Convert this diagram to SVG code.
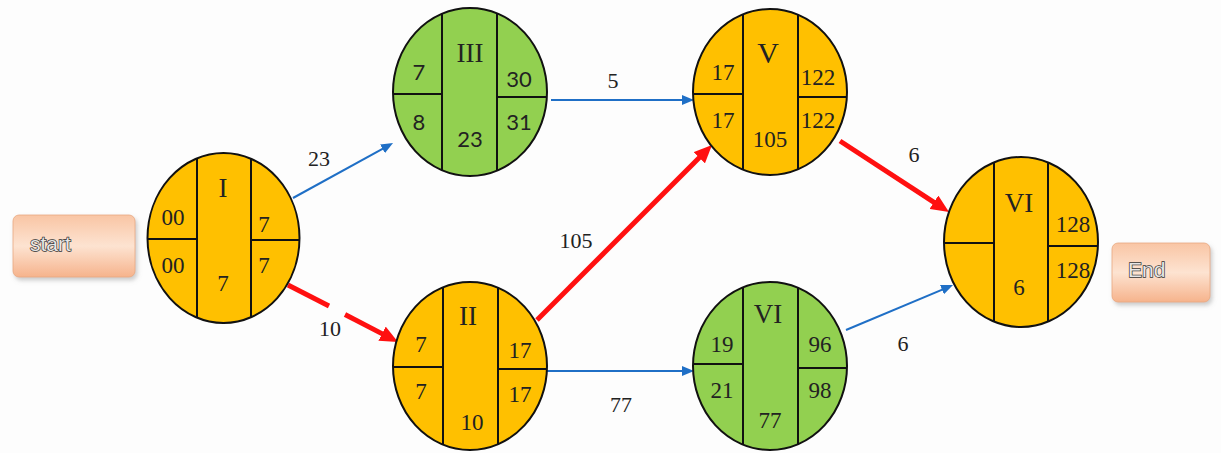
<svg xmlns="http://www.w3.org/2000/svg" width="1221" height="453" viewBox="0 0 1221 453">
<style>
.or{fill:#FFC000;stroke:#111;stroke-width:2}
.gr{fill:#92D050;stroke:#111;stroke-width:2}
.div{stroke:#111;stroke-width:2;fill:none}
.t{font-family:"Liberation Serif","Times New Roman",serif;font-size:23px;fill:#222;text-anchor:middle}
.rn{font-family:"Liberation Serif","Times New Roman",serif;font-size:27px;fill:#222;text-anchor:middle}
.s{font-family:Lato,"Liberation Sans",sans-serif;font-size:22px;fill:#222;text-anchor:middle}
.el{font-family:"Liberation Serif","Times New Roman",serif;font-size:22px;fill:#222;text-anchor:middle}
.blue{stroke:#1F6FC6;stroke-width:2;fill:none}
.red{stroke:#FF1010;stroke-width:5;fill:none}
.bx{fill:url(#peach);stroke:#e8a880;stroke-width:0.8}
.bt{font-family:"Liberation Sans",Arial,sans-serif;font-size:21px;fill:#e6e6e6;stroke:#333;stroke-width:1.4;paint-order:stroke}
</style>
<defs>
<marker id="ab" markerUnits="userSpaceOnUse" markerWidth="12" markerHeight="10" refX="1" refY="5" orient="auto"><path d="M0,0 L12,5 L0,10 z" fill="#1F6FC6"/></marker>
<marker id="ar" markerUnits="userSpaceOnUse" markerWidth="18" markerHeight="16" refX="2" refY="8" orient="auto"><path d="M0,0 L18,8 L0,16 z" fill="#FF1010"/></marker>
<linearGradient id="peach" x1="0" y1="0" x2="0" y2="1"><stop offset="0" stop-color="#f9c5a4"/><stop offset="0.5" stop-color="#fde3d1"/><stop offset="1" stop-color="#f6b38c"/></linearGradient>
<filter id="sh" x="-20%" y="-20%" width="140%" height="150%"><feDropShadow dx="2" dy="3" stdDeviation="2" flood-color="#999" flood-opacity="0.5"/></filter>
<clipPath id="c1"><ellipse cx="223.5" cy="238" rx="76" ry="85"/></clipPath>
<clipPath id="c3"><ellipse cx="470" cy="92" rx="77" ry="84"/></clipPath>
<clipPath id="c5"><ellipse cx="770" cy="92" rx="77" ry="83"/></clipPath>
<clipPath id="c6"><ellipse cx="1021" cy="242" rx="77" ry="85"/></clipPath>
<clipPath id="c2"><ellipse cx="470" cy="366" rx="77" ry="84"/></clipPath>
<clipPath id="c4"><ellipse cx="770" cy="366" rx="77" ry="84"/></clipPath>
</defs>
<rect width="1221" height="453" fill="#fdfdfd"/>

<g id="connectors">
<line class="blue" x1="293" y1="198" x2="383.4" y2="148.3" marker-end="url(#ab)"/>
<line class="blue" x1="551" y1="100" x2="683" y2="100" marker-end="url(#ab)"/>
<line class="red" x1="840" y1="141" x2="935.6" y2="203.3" marker-end="url(#ar)"/>
<line class="red" x1="288" y1="285" x2="329" y2="306"/>
<line class="red" x1="345" y1="314.5" x2="383.8" y2="334.6" marker-end="url(#ar)"/>
<line class="red" x1="537" y1="320" x2="700.7" y2="156.3" marker-end="url(#ar)"/>
<line class="blue" x1="547" y1="371" x2="683" y2="371" marker-end="url(#ab)"/>
<line class="blue" x1="846" y1="330" x2="942.9" y2="289.3" marker-end="url(#ab)"/>
<text class="el" x="319" y="166">23</text>
<text class="el" x="613" y="88">5</text>
<text class="el" x="914" y="162">6</text>
<text class="el" x="330" y="336">10</text>
<text class="el" x="576" y="248">105</text>
<text class="el" x="621" y="412">77</text>
<text class="el" x="903" y="351">6</text>
</g>

<g id="start">
<rect class="bx" x="13" y="215" width="122" height="62" rx="6" filter="url(#sh)"/>
<text class="bt" x="30" y="251">start</text>
</g>
<g id="end">
<rect class="bx" x="1112" y="243" width="98" height="59" rx="6" filter="url(#sh)"/>
<text class="bt" x="1128" y="277">End</text>
</g>

<g id="node-I">
<ellipse class="or" cx="223.5" cy="238" rx="76" ry="85"/>
<g clip-path="url(#c1)" class="div">
<line x1="197" y1="140" x2="197" y2="330"/><line x1="251" y1="140" x2="251" y2="330"/>
<line x1="140" y1="239" x2="197" y2="239"/><line x1="251" y1="240" x2="310" y2="240"/>
</g>
<text class="rn" x="223" y="197">I</text>
<text class="t" x="173" y="225">00</text>
<text class="t" x="173" y="273">00</text>
<text class="t" x="223" y="291">7</text>
<text class="t" x="264" y="232">7</text>
<text class="t" x="264" y="273">7</text>
</g>

<g id="node-III">
<ellipse class="gr" cx="470" cy="92" rx="77" ry="84"/>
<g clip-path="url(#c3)" class="div">
<line x1="442" y1="0" x2="442" y2="190"/><line x1="497" y1="0" x2="497" y2="190"/>
<line x1="380" y1="94" x2="442" y2="94"/><line x1="497" y1="97" x2="560" y2="97"/>
</g>
<text class="rn" x="470" y="62">III</text>
<text class="s" x="419" y="80">7</text>
<text class="s" x="419" y="130">8</text>
<text class="s" x="470" y="147">23</text>
<text class="s" x="519" y="87">30</text>
<text class="s" x="519" y="130">31</text>
</g>

<g id="node-V">
<ellipse class="or" cx="770" cy="92" rx="77" ry="83"/>
<g clip-path="url(#c5)" class="div">
<line x1="743" y1="0" x2="743" y2="190"/><line x1="798" y1="0" x2="798" y2="190"/>
<line x1="680" y1="94" x2="743" y2="94"/><line x1="798" y1="97" x2="860" y2="97"/>
</g>
<text class="rn" x="768" y="63" style="font-size:30px">V</text>
<text class="t" x="723" y="80">17</text>
<text class="t" x="723" y="128">17</text>
<text class="t" x="770" y="147">105</text>
<text class="t" x="818" y="85">122</text>
<text class="t" x="818" y="128">122</text>
</g>

<g id="node-VI-end">
<ellipse class="or" cx="1021" cy="242" rx="77" ry="85"/>
<g clip-path="url(#c6)" class="div">
<line x1="994" y1="150" x2="994" y2="340"/><line x1="1048" y1="150" x2="1048" y2="340"/>
<line x1="930" y1="243" x2="994" y2="243"/><line x1="1048" y1="246" x2="1110" y2="246"/>
</g>
<text class="rn" x="1019" y="212">VI</text>
<text class="t" x="1073" y="232">128</text>
<text class="t" x="1073" y="278">128</text>
<text class="t" x="1019" y="295">6</text>
</g>

<g id="node-II">
<ellipse class="or" cx="470" cy="366" rx="77" ry="84"/>
<g clip-path="url(#c2)" class="div">
<line x1="443" y1="270" x2="443" y2="460"/><line x1="498" y1="270" x2="498" y2="460"/>
<line x1="380" y1="367" x2="443" y2="367"/><line x1="498" y1="369" x2="560" y2="369"/>
</g>
<text class="rn" x="468" y="325">II</text>
<text class="t" x="421" y="352">7</text>
<text class="t" x="421" y="399">7</text>
<text class="t" x="472" y="430">10</text>
<text class="t" x="520" y="358">17</text>
<text class="t" x="520" y="402">17</text>
</g>

<g id="node-VI-mid">
<ellipse class="gr" cx="770" cy="366" rx="77" ry="84"/>
<g clip-path="url(#c4)" class="div">
<line x1="743" y1="270" x2="743" y2="460"/><line x1="798" y1="270" x2="798" y2="460"/>
<line x1="680" y1="364" x2="743" y2="364"/><line x1="798" y1="368" x2="860" y2="368"/>
</g>
<text class="rn" x="768" y="323">VI</text>
<text class="t" x="722" y="352">19</text>
<text class="t" x="722" y="398">21</text>
<text class="t" x="770" y="428">77</text>
<text class="t" x="820" y="352">96</text>
<text class="t" x="820" y="398">98</text>
</g>
</svg>
